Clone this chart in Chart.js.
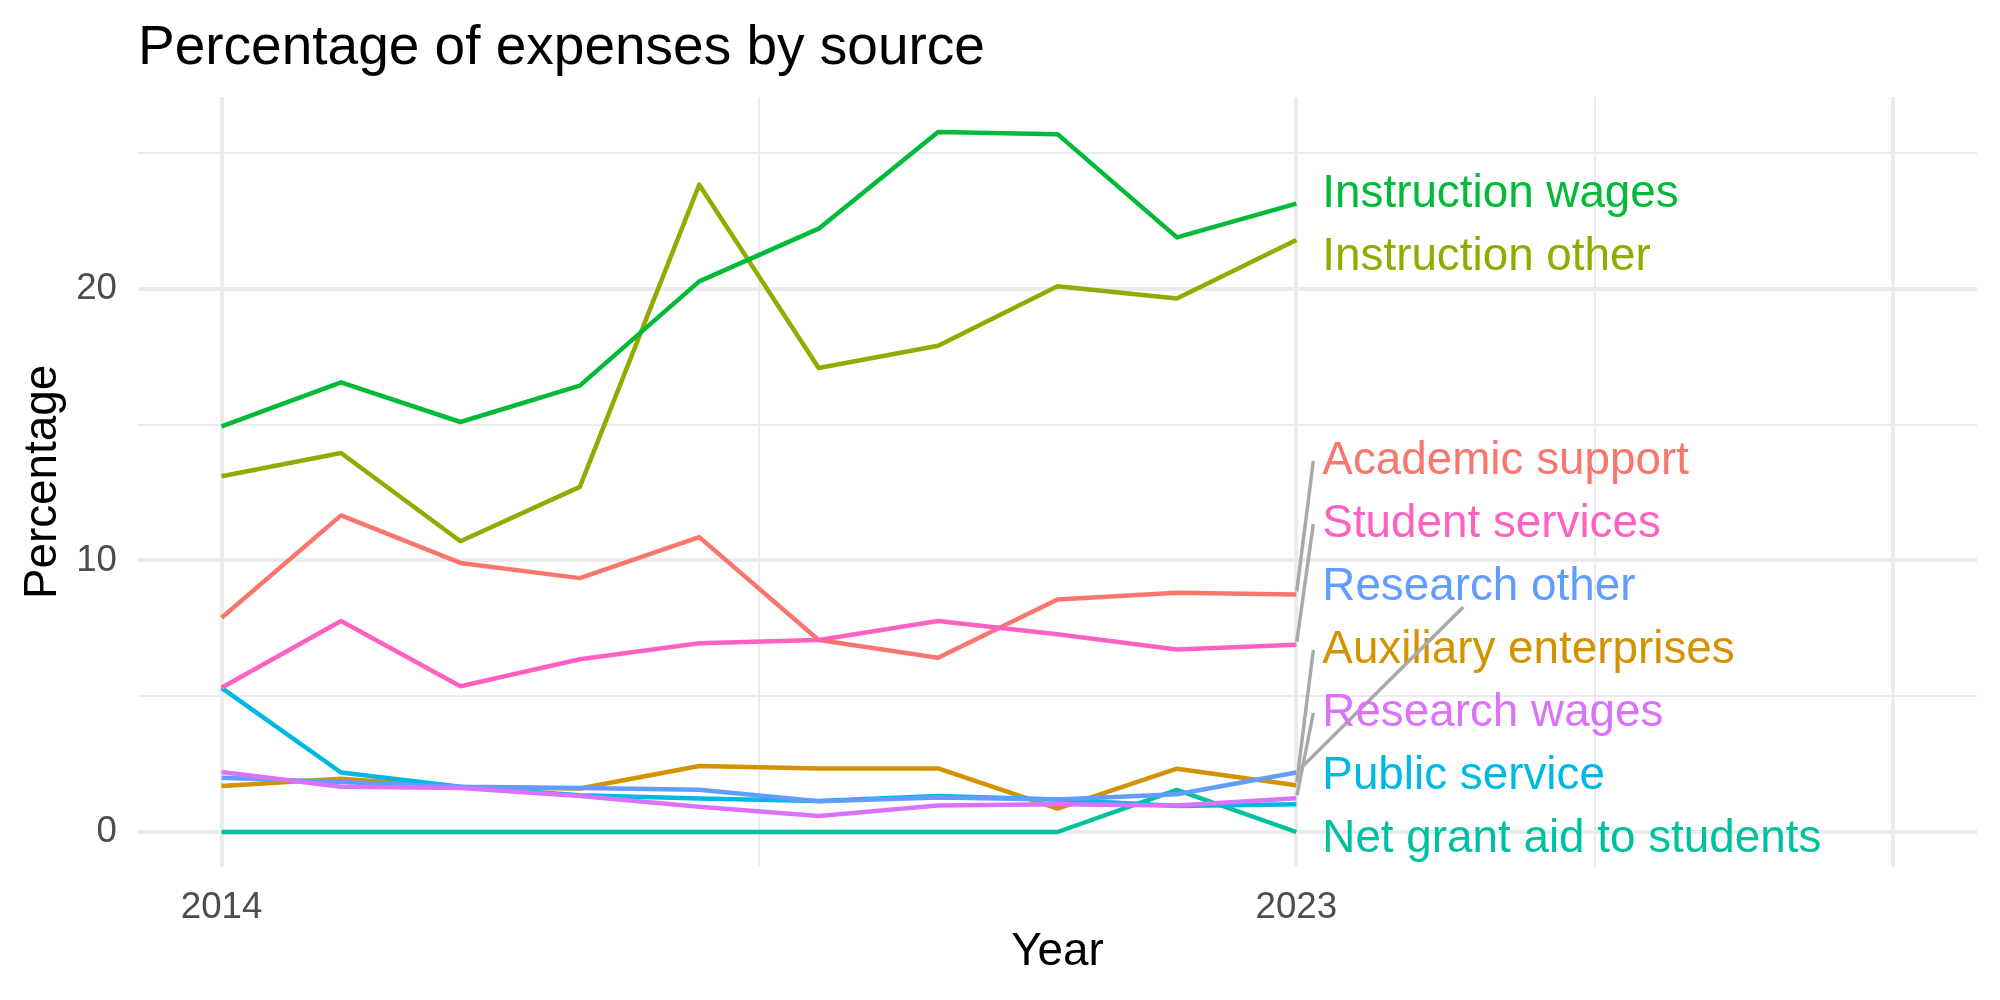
<!DOCTYPE html>
<html>
<head>
<meta charset="utf-8">
<script src="https://cdn.jsdelivr.net/npm/chart.js@4.4.1/dist/chart.umd.min.js"></script>
<style>
  html, body { margin: 0; padding: 0; background: #ffffff; }
  #wrap { width: 2000px; height: 1000px; }
</style>
</head>
<body>
<div id="wrap"><canvas id="c" width="2000" height="1000"></canvas></div>
<script>
// ---------------- data ----------------
const years = [2014, 2015, 2016, 2017, 2018, 2019, 2020, 2021, 2022, 2023];

const academicSupport      = [7.89, 11.66, 9.91, 9.35, 10.86, 7.07, 6.42, 8.56, 8.81, 8.75];
const auxiliaryEnterprises = [1.69, 1.96, 1.65, 1.60, 2.43, 2.34, 2.34, 0.86, 2.33, 1.72];
const instructionOther     = [13.10, 13.96, 10.71, 12.71, 23.84, 17.09, 17.91, 20.10, 19.65, 21.80];
const instructionWages     = [14.94, 16.56, 15.10, 16.44, 20.28, 22.22, 25.78, 25.70, 21.90, 23.14];
const netGrantAid          = [0, 0, 0, 0, 0, 0, 0, 0, 1.55, 0];
const publicService        = [5.31, 2.19, 1.67, 1.35, 1.23, 1.14, 1.33, 1.20, 0.96, 1.02];
const researchOther        = [2.00, 1.84, 1.67, 1.62, 1.56, 1.13, 1.27, 1.20, 1.39, 2.19];
const researchWages        = [2.21, 1.67, 1.62, 1.33, 0.93, 0.59, 0.98, 1.02, 0.98, 1.24];
const studentServices      = [5.31, 7.77, 5.37, 6.36, 6.95, 7.07, 7.77, 7.28, 6.72, 6.90];

const seriesNames = ['Academic support', 'Auxiliary enterprises', 'Instruction other', 'Instruction wages',
  'Net grant aid to students', 'Public service', 'Research other', 'Research wages', 'Student services'];
const seriesValues = [academicSupport, auxiliaryEnterprises, instructionOther, instructionWages,
  netGrantAid, publicService, researchOther, researchWages, studentServices];
const seriesColors = ['#F8766D', '#D39200', '#93AA00', '#00BA38', '#00C19F', '#00B9E3', '#619CFF', '#DB72FB', '#FF61C3'];

const xTickLabels = ['2014', '2023'];
const xMajorBreaks = [2014, 2023, 2028];
const xMinorBreaks = [2018.5, 2025.5];
const yTickLabels = ['0', '10', '20'];
const yMajorBreaks = [0, 10, 20];
const yMinorBreaks = [5, 15, 25];

const titleText = 'Percentage of expenses by source';
const xTitle = 'Year';
const yTitle = 'Percentage';

// ---------------- chart ----------------
const FONT = "'Liberation Sans', Arial, Helvetica, sans-serif";
Chart.defaults.font.family = FONT;

const yMaxData = Math.max(...seriesValues.flat());
const yMinData = Math.min(...seriesValues.flat());
const yPad = (yMaxData - yMinData) * 0.05;

const repelLabels = {
  id: 'repelLabels',
  afterDatasetsDraw(chart) {
    const { ctx, chartArea, scales } = chart;
    const xs = scales.x, ys = scales.y;
    const gap = 63;
    const last = years.length - 1;
    const xPt = xs.getPixelForValue(years[last]);
    const items = seriesNames.map((name, i) => ({
      name, idx: i, color: seriesColors[i],
      py: ys.getPixelForValue(seriesValues[i][last])
    }));
    const sorted = items.slice().sort((a, b) => a.py - b.py);
    const lo = chartArea.top + 31, hi = chartArea.bottom - 31;
    const place = (c) => {
      const n = c.items.length;
      const mean = c.items.reduce((s, it) => s + it.py, 0) / n;
      let start = mean - (n - 1) / 2 * gap;
      if (start + (n - 1) * gap > hi) start = hi - (n - 1) * gap;
      if (start < lo) start = lo;
      c.start = start; c.end = start + (n - 1) * gap;
    };
    let clusters = sorted.map(it => ({ items: [it] }));
    clusters.forEach(place);
    let merged = true;
    while (merged) {
      merged = false;
      for (let i = 0; i < clusters.length - 1; i++) {
        if (clusters[i].end + gap > clusters[i + 1].start + 0.01) {
          clusters[i].items = clusters[i].items.concat(clusters[i + 1].items);
          clusters.splice(i + 1, 1);
          place(clusters[i]);
          merged = true;
          break;
        }
      }
    }
    clusters.forEach(c => c.items.forEach((it, k) => { it.ly = c.start + k * gap; }));

    const textX = xPt + 26;
    ctx.save();
    ctx.font = `45.8px ${FONT}`;
    ctx.textAlign = 'left';
    ctx.textBaseline = 'alphabetic';
    items.forEach(it => {
      const dy = it.ly - it.py;
      if (Math.abs(dy) > 40) {
        let ex, ey;
        if (it.name === 'Research other') { ex = textX + 141; ey = it.ly + 23; }
        else { ex = textX - 9; ey = it.ly + 3; }
        const len = Math.hypot(ex - xPt, ey - it.py);
        const sx = xPt + (ex - xPt) / len * 3, sy = it.py + (ey - it.py) / len * 3;
        ctx.strokeStyle = '#A9A9A9';
        ctx.lineWidth = 3.5;
        ctx.lineCap = 'butt';
        ctx.beginPath();
        ctx.moveTo(sx, sy);
        ctx.lineTo(ex, ey);
        ctx.stroke();
      }
      ctx.fillStyle = it.color;
      ctx.fillText(it.name, textX, it.ly + 16.4);
    });
    ctx.restore();
  }
};

const datasets = seriesNames.map((name, i) => ({
  label: name,
  data: years.map((yr, j) => ({ x: yr, y: seriesValues[i][j] })),
  borderColor: seriesColors[i],
  backgroundColor: seriesColors[i],
  borderWidth: 4.5,
  pointRadius: 0,
  tension: 0,
  fill: false,
  borderCapStyle: 'butt',
  borderJoinStyle: 'round',
  order: seriesNames.length - i
}));

new Chart(document.getElementById('c'), {
  type: 'line',
  data: { datasets },
  plugins: [repelLabels],
  options: {
    responsive: false,
    animation: false,
    devicePixelRatio: 1,
    layout: { padding: { left: 0, right: 23, top: 0, bottom: 0 } },
    plugins: {
      legend: { display: false },
      tooltip: { enabled: false },
      title: {
        display: true,
        text: titleText,
        align: 'start',
        fullSize: false,
        color: '#000000',
        font: { size: 55, weight: 'normal', family: FONT, lineHeight: 1.2 },
        padding: { top: 16, bottom: 15 }
      }
    },
    scales: {
      x: {
        type: 'linear',
        min: years[0] - 0.05 * (xMajorBreaks[xMajorBreaks.length - 1] - years[0]),
        max: xMajorBreaks[xMajorBreaks.length - 1] + 0.05 * (xMajorBreaks[xMajorBreaks.length - 1] - years[0]),
        afterBuildTicks: (scale) => {
          scale.ticks = xMajorBreaks.concat(xMinorBreaks).sort((a, b) => a - b).map(v => ({ value: v }));
        },
        afterFit: (scale) => { scale.height = 133; },
        border: { display: false },
        grid: {
          color: '#EBEBEB',
          drawTicks: false,
          lineWidth: (c) => (c.tick && xMajorBreaks.includes(c.tick.value)) ? 4 : 2
        },
        ticks: {
          autoSkip: false,
          maxRotation: 0,
          minRotation: 0,
          padding: 19,
          color: '#4D4D4D',
          font: { size: 36.7, family: FONT, lineHeight: 1.2 },
          callback: (v) => { const k = xMajorBreaks.indexOf(v); return (k >= 0 && k < xTickLabels.length) ? xTickLabels[k] : ''; }
        },
        title: {
          display: true,
          text: xTitle,
          color: '#000000',
          font: { size: 45.8, family: FONT, lineHeight: 1.2 },
          padding: { top: 0, bottom: 20.5 }
        }
      },
      y: {
        type: 'linear',
        min: yMinData - yPad,
        max: yMaxData + yPad,
        afterBuildTicks: (scale) => {
          scale.ticks = yMajorBreaks.concat(yMinorBreaks).sort((a, b) => a - b).map(v => ({ value: v }));
        },
        afterFit: (scale) => { scale.width = 138; },
        border: { display: false },
        grid: {
          color: '#EBEBEB',
          drawTicks: false,
          lineWidth: (c) => (c.tick && yMajorBreaks.includes(c.tick.value)) ? 4 : 2
        },
        ticks: {
          autoSkip: false,
          padding: 21,
          color: '#4D4D4D',
          font: { size: 36.7, family: FONT, lineHeight: 1.2 },
          callback: (v) => { const k = yMajorBreaks.indexOf(v); return k >= 0 ? yTickLabels[k] : ''; }
        },
        title: {
          display: true,
          text: yTitle,
          color: '#000000',
          font: { size: 45.8, family: FONT, lineHeight: 1.2 },
          padding: { top: 15.5, bottom: 0 }
        }
      }
    }
  }
});
</script>
</body>
</html>
